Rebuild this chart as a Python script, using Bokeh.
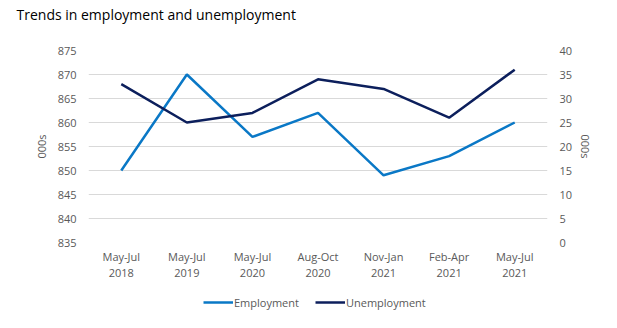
from bokeh.plotting import figure
from bokeh.layouts import column
from bokeh.models import Range1d, LinearAxis, Legend, LegendItem, FixedTicker, ColumnDataSource
from bokeh.embed import file_html
from bokeh.resources import INLINE

periods = ["May-Jul\n2018", "May-Jul\n2019", "May-Jul\n2020", "Aug-Oct\n2020",
           "Nov-Jan\n2021", "Feb-Apr\n2021", "May-Jul\n2021"]
employment = [850, 870, 857, 862, 849, 853, 860]
unemployment = [33, 25, 27, 34, 32, 26, 36]
left_ticks = [835, 840, 845, 850, 855, 860, 865, 870, 875]
right_ticks = [0, 5, 10, 15, 20, 25, 30, 35, 40]
series_names = ["Employment", "Unemployment"]
title_text = "Trends in employment and unemployment"

FONT = "Open Sans"
GREY = "#595959"
EMP_C = "#0a78c6"
UNE_C = "#0c1f5c"

src = ColumnDataSource(dict(x=periods, emp=employment, une=unemployment))

# title strip
p0 = figure(width=617, height=40, x_range=Range1d(0, 1), y_range=Range1d(0, 1),
            output_backend="svg", toolbar_location=None,
            x_axis_type=None, y_axis_type=None,
            min_border_left=88, min_border_right=70, min_border_top=0, min_border_bottom=0)
p0.outline_line_color = None
p0.grid.visible = False
p0.title.text = title_text
p0.title.text_font = FONT
p0.title.text_font_size = "14px"
p0.title.text_font_style = "normal"
p0.title.text_color = "#000000"
p0.title.offset = -72
p0.title.standoff = 5

# main chart
p = figure(width=617, height=246, x_range=periods, y_range=Range1d(835, 875),
           output_backend="svg", toolbar_location=None, title=None,
           min_border_left=88, min_border_right=70, min_border_top=10, min_border_bottom=44)
p.x_range.range_padding = 0
p.extra_y_ranges = {"u": Range1d(0, 40)}

p.outline_line_color = None
p.xgrid.grid_line_color = None
p.ygrid.grid_line_color = "#d9d9d9"
p.ygrid.ticker = FixedTicker(ticks=left_ticks)

ax_l = p.yaxis[0]
ax_l.ticker = FixedTicker(ticks=left_ticks)
ax_l.axis_label = "000s"

ax_r = LinearAxis(y_range_name="u", ticker=FixedTicker(ticks=right_ticks), axis_label="000s")
p.add_layout(ax_r, "right")

for ax in (ax_l, ax_r):
    ax.axis_line_color = None
    ax.major_tick_line_color = None
    ax.minor_tick_line_color = None
    ax.major_tick_out = 0
    ax.minor_tick_out = 0
    ax.major_label_text_font = FONT
    ax.major_label_text_font_size = "11px"
    ax.major_label_text_color = GREY
    ax.axis_label_text_font = FONT
    ax.axis_label_text_font_size = "11px"
    ax.axis_label_text_font_style = "normal"
    ax.axis_label_text_color = GREY
    ax.major_label_standoff = 12
ax_l.axis_label_standoff = 6
ax_r.axis_label_standoff = 3

xa = p.xaxis[0]
xa.axis_line_color = None
xa.major_tick_line_color = None
xa.minor_tick_line_color = None
xa.major_tick_out = 0
xa.minor_tick_out = 0
xa.major_label_text_font = FONT
xa.major_label_text_font_size = "11px"
xa.major_label_text_color = GREY
xa.major_label_text_line_height = 1.1
xa.major_label_standoff = 6

p.line("x", "emp", source=src, line_color=EMP_C, line_width=2.5)
p.line("x", "une", source=src, line_color=UNE_C, line_width=2.5, y_range_name="u")

# legend strip below the chart (its lines fall outside its own view and are clipped)
p2 = figure(width=617, height=42, x_range=periods, y_range=Range1d(0, 1),
            output_backend="svg", toolbar_location=None,
            x_axis_type=None, y_axis_type=None,
            min_border_left=88, min_border_right=70, min_border_top=0, min_border_bottom=0)
p2.outline_line_color = None
p2.grid.visible = False
k1 = p2.line("x", "emp", source=src, line_color=EMP_C, line_width=2.5)
k2 = p2.line("x", "une", source=src, line_color=UNE_C, line_width=2.5)

legend = Legend(items=[LegendItem(label=series_names[0], renderers=[k1]),
                       LegendItem(label=series_names[1], renderers=[k2])],
                orientation="horizontal", location=(115, 18),
                label_text_font=FONT, label_text_font_size="11px", label_text_color=GREY,
                glyph_width=30, glyph_height=16, label_height=16,
                label_standoff=1, spacing=16, padding=0, margin=0,
                border_line_color=None, background_fill_alpha=0)
p2.add_layout(legend)

layout = column(p0, p, p2, spacing=0)
open("out.html", "w").write(file_html(layout, INLINE))
